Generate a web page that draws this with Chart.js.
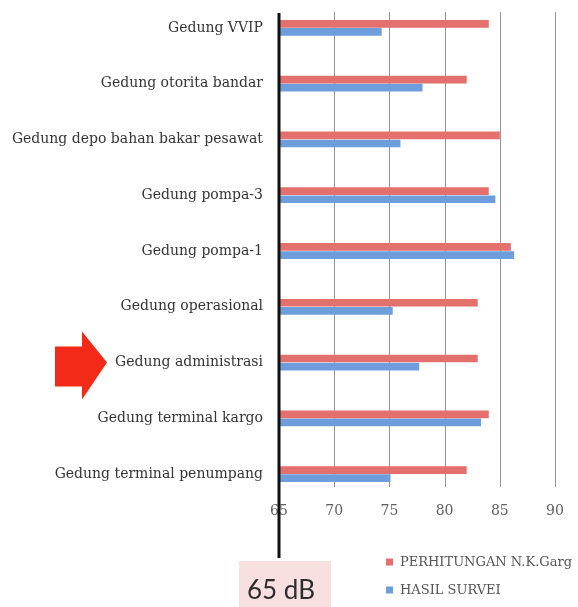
<!DOCTYPE html>
<html>
<head>
<meta charset="utf-8">
<script src="https://cdn.jsdelivr.net/npm/chart.js@4.4.1/dist/chart.umd.min.js"></script>
<style>
  html, body { margin: 0; padding: 0; background: #fff; }
  #wrap { width: 578px; height: 607px; }
</style>
</head>
<body>
<div id="wrap"><canvas id="noiseChart" width="578" height="607"></canvas></div>
<script>
// Categories from top to bottom
const categories = [
  "Gedung VVIP",
  "Gedung otorita bandar",
  "Gedung depo bahan bakar pesawat",
  "Gedung pompa-3",
  "Gedung pompa-1",
  "Gedung operasional",
  "Gedung administrasi",
  "Gedung terminal kargo",
  "Gedung terminal penumpang"
];
const perhitungan = [84, 82, 85, 84, 86, 83, 83, 84, 82];
const hasilSurvei = [74.3, 78, 76, 84.6, 86.3, 75.3, 77.7, 83.3, 75.1];
const xTicks = [65, 70, 75, 80, 85, 90];
const seriesNames = ["PERHITUNGAN N.K.Garg", "HASIL SURVEI"];
const thresholdDb = 65;
const thresholdLabel = "65 dB";
const markedCategory = "Gedung administrasi";

const RED = "#e3706c";
const BLUE = "#6d9edb";

// grid lines, black 65 dB line, box, legend and arrow
const overlay = {
  id: "overlay",
  beforeDatasetsDraw(chart) {
    const { ctx, chartArea, scales: { x } } = chart;
    ctx.save();
    ctx.strokeStyle = "#959595";
    ctx.lineWidth = 1;
    xTicks.forEach(v => {
      if (v === thresholdDb) return;
      const px = Math.round(x.getPixelForValue(v)) + 0.5;
      ctx.beginPath();
      ctx.moveTo(px, chartArea.top + 12);
      ctx.lineTo(px, chartArea.bottom - 15);
      ctx.stroke();
    });
    ctx.restore();
  },
  afterDraw(chart) {
    const { ctx, chartArea, scales: { x, y } } = chart;
    const px = x.getPixelForValue(thresholdDb);
    ctx.save();

    // pink box with label
    ctx.fillStyle = "#f8e0e0";
    ctx.fillRect(px - 40, 561, 92, 46);
    ctx.fillStyle = "#2e2e2e";
    ctx.font = "26px Lato";
    ctx.textAlign = "center";
    ctx.textBaseline = "middle";
    ctx.fillText(thresholdLabel, px + 2, 591);

    // thick black line at 65 dB
    ctx.fillStyle = "#111";
    ctx.fillRect(px - 1.5, chartArea.top + 13, 3, 558 - (chartArea.top + 13));

    // legend
    ctx.font = "13px 'DejaVu Serif'";
    ctx.textAlign = "left";
    chart.data.datasets.forEach((ds, i) => {
      const ly = 562 + i * 28;
      ctx.fillStyle = ds.backgroundColor;
      ctx.fillRect(386, ly - 3.5, 7, 7);
      ctx.fillStyle = "#555";
      ctx.fillText(ds.label, 400, ly + 1);
    });

    // red arrow pointing at the marked category
    const ay = y.getPixelForValue(categories.indexOf(markedCategory));
    ctx.fillStyle = "#f32a17";
    ctx.beginPath();
    ctx.moveTo(55, ay - 16);
    ctx.lineTo(82, ay - 16);
    ctx.lineTo(82, ay - 31);
    ctx.lineTo(107, ay);
    ctx.lineTo(82, ay + 37);
    ctx.lineTo(82, ay + 24);
    ctx.lineTo(55, ay + 24);
    ctx.closePath();
    ctx.fill();

    ctx.restore();
  }
};

const ctx = document.getElementById("noiseChart").getContext("2d");
new Chart(ctx, {
  type: "bar",
  data: {
    labels: categories,
    datasets: [
      {
        label: seriesNames[0],
        data: perhitungan,
        backgroundColor: RED,
        categoryPercentage: 0.29,
        barPercentage: 0.95
      },
      {
        label: seriesNames[1],
        data: hasilSurvei,
        backgroundColor: BLUE,
        categoryPercentage: 0.29,
        barPercentage: 0.95
      }
    ]
  },
  options: {
    indexAxis: "y",
    responsive: false,
    animation: false,
    devicePixelRatio: 1,
    layout: { padding: { top: 0, right: 23, bottom: 0, left: 0 } },
    plugins: {
      legend: { display: false },
      tooltip: { enabled: false }
    },
    scales: {
      x: {
        min: 65,
        max: 90,
        afterBuildTicks: s => { s.ticks = xTicks.map(v => ({ value: v })); },
        afterFit: s => { s.height = 105; },
        grid: { display: false },
        border: { display: false },
        ticks: {
          padding: -7,
          color: "#606060",
          font: { family: "'DejaVu Serif'", size: 14 }
        }
      },
      y: {
        afterFit: s => { s.width = 279; s.paddingTop = 0; s.paddingBottom = 0; },
        grid: { display: false },
        border: { display: false },
        ticks: {
          padding: 8,
          color: "#353535",
          font: { family: "'DejaVu Serif'", size: 14 }
        }
      }
    }
  },
  plugins: [overlay]
});
</script>
</body>
</html>
